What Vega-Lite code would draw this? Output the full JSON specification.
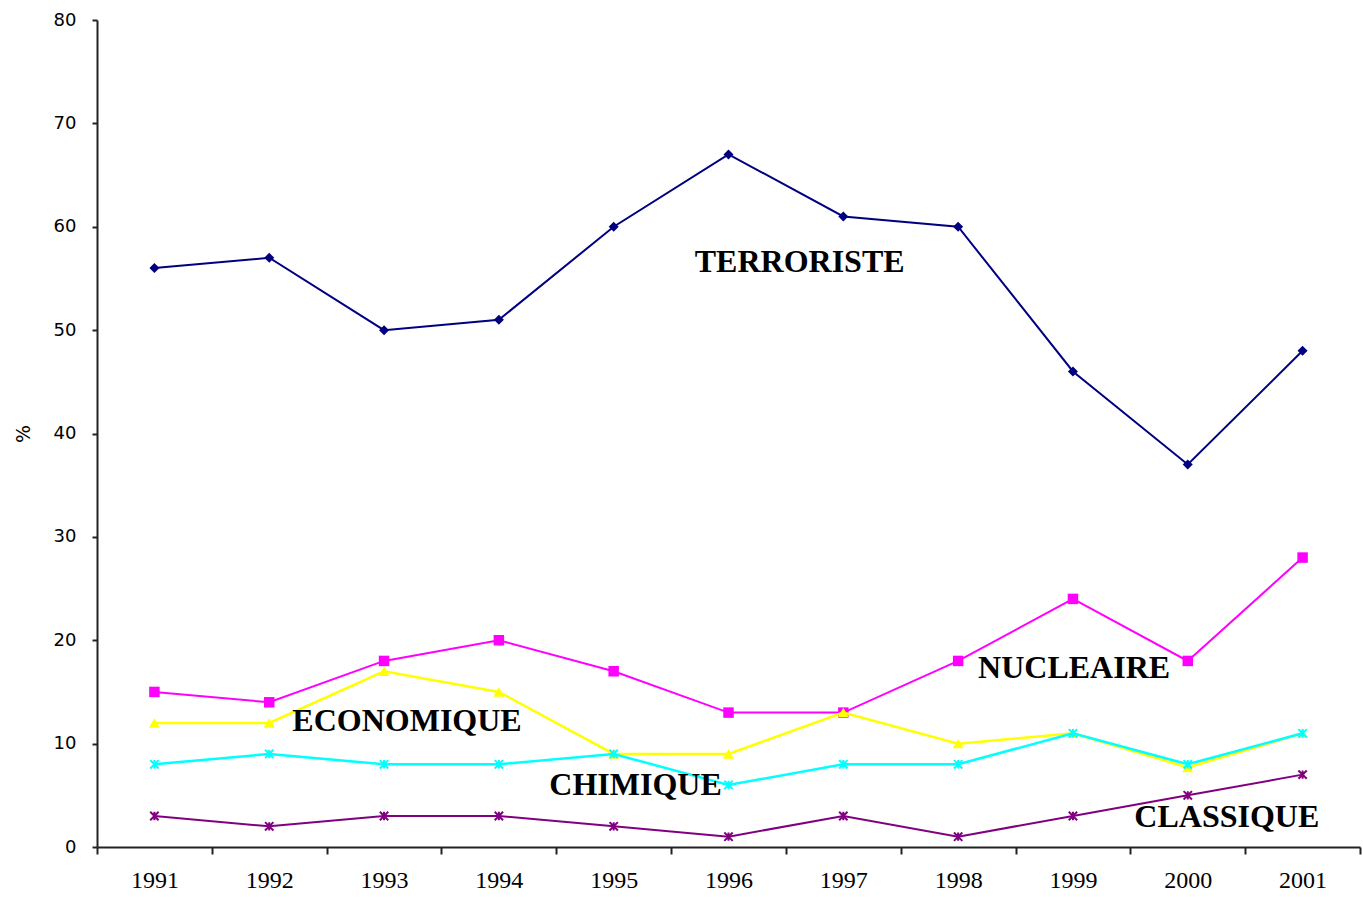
{
  "$schema": "https://vega.github.io/schema/vega-lite/v6.json",
  "autosize": "none",
  "width": 1263,
  "height": 827,
  "padding": {"left": 97, "top": 20, "right": 3, "bottom": 50},
  "background": "white",
  "config": {"view": {"stroke": null}},
  "data": {"values": [
    {"annee":"1991","serie":"TERRORISTE","v":56},{"annee":"1992","serie":"TERRORISTE","v":57},{"annee":"1993","serie":"TERRORISTE","v":50},{"annee":"1994","serie":"TERRORISTE","v":51},{"annee":"1995","serie":"TERRORISTE","v":60},{"annee":"1996","serie":"TERRORISTE","v":67},{"annee":"1997","serie":"TERRORISTE","v":61},{"annee":"1998","serie":"TERRORISTE","v":60},{"annee":"1999","serie":"TERRORISTE","v":46},{"annee":"2000","serie":"TERRORISTE","v":37},{"annee":"2001","serie":"TERRORISTE","v":48},
    {"annee":"1991","serie":"NUCLEAIRE","v":15},{"annee":"1992","serie":"NUCLEAIRE","v":14},{"annee":"1993","serie":"NUCLEAIRE","v":18},{"annee":"1994","serie":"NUCLEAIRE","v":20},{"annee":"1995","serie":"NUCLEAIRE","v":17},{"annee":"1996","serie":"NUCLEAIRE","v":13},{"annee":"1997","serie":"NUCLEAIRE","v":13},{"annee":"1998","serie":"NUCLEAIRE","v":18},{"annee":"1999","serie":"NUCLEAIRE","v":24},{"annee":"2000","serie":"NUCLEAIRE","v":18},{"annee":"2001","serie":"NUCLEAIRE","v":28},
    {"annee":"1991","serie":"ECONOMIQUE","v":12},{"annee":"1992","serie":"ECONOMIQUE","v":12},{"annee":"1993","serie":"ECONOMIQUE","v":17},{"annee":"1994","serie":"ECONOMIQUE","v":15},{"annee":"1995","serie":"ECONOMIQUE","v":9},{"annee":"1996","serie":"ECONOMIQUE","v":9},{"annee":"1997","serie":"ECONOMIQUE","v":13},{"annee":"1998","serie":"ECONOMIQUE","v":10},{"annee":"1999","serie":"ECONOMIQUE","v":11},{"annee":"2000","serie":"ECONOMIQUE","v":7.7},{"annee":"2001","serie":"ECONOMIQUE","v":11},
    {"annee":"1991","serie":"CHIMIQUE","v":8},{"annee":"1992","serie":"CHIMIQUE","v":9},{"annee":"1993","serie":"CHIMIQUE","v":8},{"annee":"1994","serie":"CHIMIQUE","v":8},{"annee":"1995","serie":"CHIMIQUE","v":9},{"annee":"1996","serie":"CHIMIQUE","v":6},{"annee":"1997","serie":"CHIMIQUE","v":8},{"annee":"1998","serie":"CHIMIQUE","v":8},{"annee":"1999","serie":"CHIMIQUE","v":11},{"annee":"2000","serie":"CHIMIQUE","v":8},{"annee":"2001","serie":"CHIMIQUE","v":11},
    {"annee":"1991","serie":"CLASSIQUE","v":3},{"annee":"1992","serie":"CLASSIQUE","v":2},{"annee":"1993","serie":"CLASSIQUE","v":3},{"annee":"1994","serie":"CLASSIQUE","v":3},{"annee":"1995","serie":"CLASSIQUE","v":2},{"annee":"1996","serie":"CLASSIQUE","v":1},{"annee":"1997","serie":"CLASSIQUE","v":3},{"annee":"1998","serie":"CLASSIQUE","v":1},{"annee":"1999","serie":"CLASSIQUE","v":3},{"annee":"2000","serie":"CLASSIQUE","v":5},{"annee":"2001","serie":"CLASSIQUE","v":7}
  ]},
  "layer": [
    {
      "encoding": {
        "x": {"field": "annee", "type": "ordinal", "bandPosition": 0.5,
          "scale": {"type": "band", "paddingInner": 0, "paddingOuter": 0},
          "axis": {"title": null, "labelAngle": 0, "tickBand": "extent", "grid": false,
            "domainColor": "#222222", "domainWidth": 2, "tickColor": "#222222", "tickWidth": 2, "tickSize": 7,
            "labelFont": "Liberation Serif", "labelFontSize": 24, "labelColor": "#000000", "labelPadding": 14}},
        "y": {"field": "v", "type": "quantitative",
          "scale": {"domain": [0, 80], "nice": false},
          "axis": {"title": "%", "values": [0,10,20,30,40,50,60,70,80], "grid": false,
            "domainColor": "#222222", "domainWidth": 2, "tickColor": "#222222", "tickWidth": 2, "tickSize": 5,
            "labelFont": "DejaVu Sans", "labelFontSize": 18, "labelColor": "#000000", "labelPadding": 16,
            "titleFont": "DejaVu Sans", "titleFontSize": 19, "titleFontWeight": "normal", "titleColor": "#000000", "titlePadding": 20}},
        "color": {"field": "serie", "type": "nominal", "legend": null,
          "scale": {"domain": ["TERRORISTE","NUCLEAIRE","ECONOMIQUE","CHIMIQUE","CLASSIQUE"],
                    "range": ["#000080","#FF00FF","#FFFF00","#00FFFF","#800080"]}}
      },
      "layer": [
        {"transform": [{"filter": "datum.serie == 'TERRORISTE'"}],
         "mark": {"type": "line", "strokeWidth": 2, "point": {"shape": "diamond", "filled": true, "size": 100, "opacity": 1}}},
        {"transform": [{"filter": "datum.serie == 'NUCLEAIRE'"}],
         "mark": {"type": "line", "strokeWidth": 2, "point": {"shape": "square", "filled": true, "size": 110, "opacity": 1}}},
        {"transform": [{"filter": "datum.serie == 'ECONOMIQUE'"}],
         "mark": {"type": "line", "strokeWidth": 2.5, "point": {"shape": "triangle-up", "filled": true, "size": 120, "opacity": 1}}},
        {"transform": [{"filter": "datum.serie == 'CHIMIQUE'"}],
         "mark": {"type": "line", "strokeWidth": 2.5, "point": {"shape": "M-1,-1L1,1M-1,1L1,-1M0,-1L0,1", "filled": false, "size": 70, "strokeWidth": 2, "opacity": 1}}},
        {"transform": [{"filter": "datum.serie == 'CLASSIQUE'"}],
         "mark": {"type": "line", "strokeWidth": 2, "point": {"shape": "M-1,-1L1,1M-1,1L1,-1M0,-1L0,1", "filled": false, "size": 70, "strokeWidth": 2, "opacity": 1}}}
      ]
    },
    {
      "data": {"values": [
        {"label": "TERRORISTE", "px": 1996.62, "py": 56.6},
        {"label": "NUCLEAIRE", "px": 1999.01, "py": 17.3},
        {"label": "ECONOMIQUE", "px": 1993.2, "py": 12.2},
        {"label": "CHIMIQUE", "px": 1995.19, "py": 6.0},
        {"label": "CLASSIQUE", "px": 2000.34, "py": 2.9}
      ]},
      "mark": {"type": "text", "font": "Liberation Serif", "fontWeight": "bold", "fontSize": 32, "color": "#000000", "align": "center", "baseline": "middle"},
      "encoding": {
        "x": {"field": "px", "type": "quantitative", "scale": {"domain": [1990.5, 2001.5], "nice": false, "zero": false}, "axis": null},
        "y": {"field": "py", "type": "quantitative"},
        "text": {"field": "label"}
      }
    }
  ],
  "resolve": {"scale": {"x": "independent"}, "axis": {"x": "independent"}}
}
